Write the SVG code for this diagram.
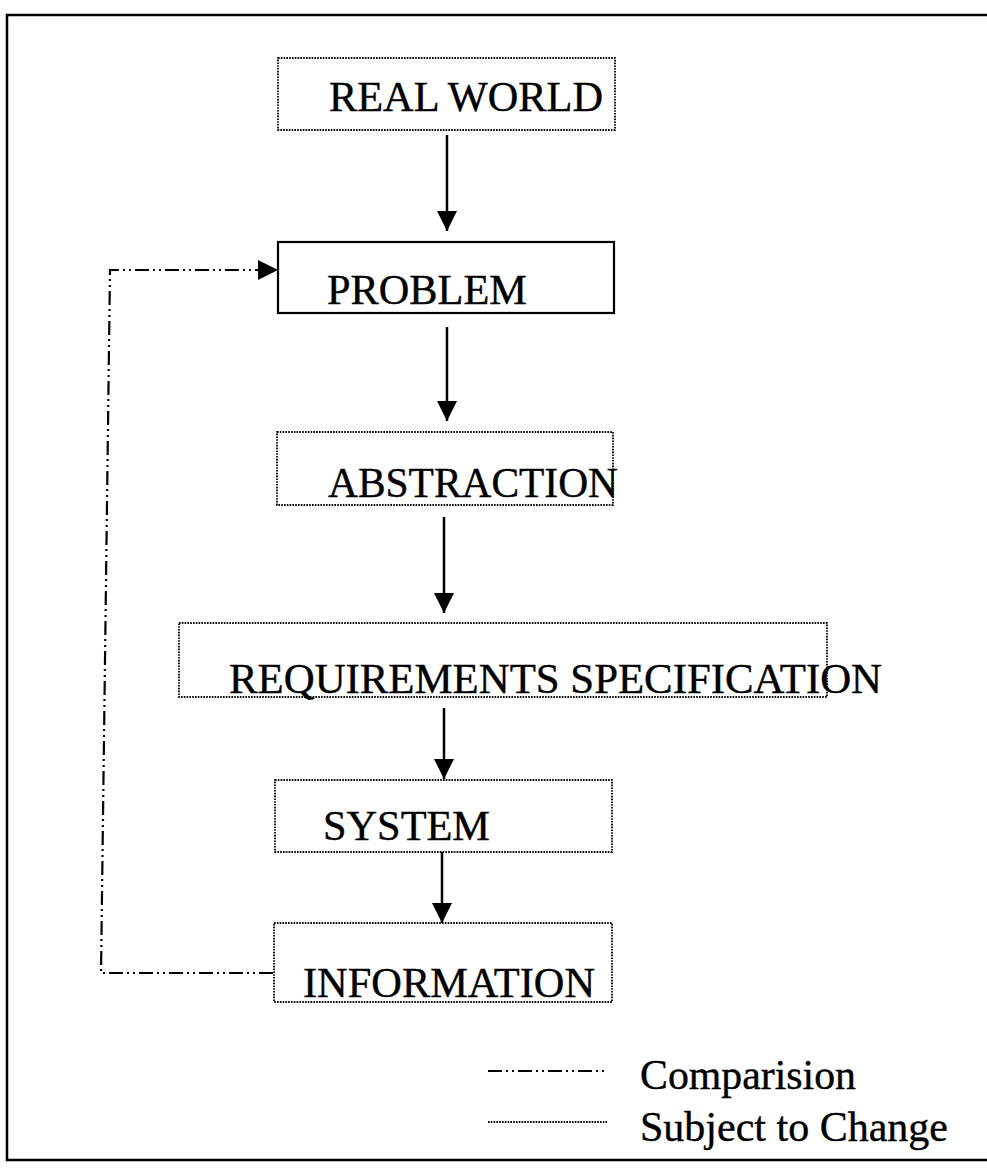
<svg xmlns="http://www.w3.org/2000/svg" width="987" height="1168" viewBox="0 0 987 1168">
<style>
text{font-family:"Liberation Serif","Times New Roman",serif;font-size:42px;fill:#000;stroke:#000;stroke-width:0.4}
.dot{fill:none;stroke:#000;stroke-width:1.8;stroke-dasharray:1.6 1.2}
.solid{fill:none;stroke:#000;stroke-width:2.2}
.arrow{stroke:#000;stroke-width:2.5;fill:none;marker-end:url(#ah)}
.dashdot{fill:none;stroke:#000;stroke-width:2.2;stroke-dasharray:14 4 2 4 2 4}
</style>
<defs>
<marker id="ah" markerWidth="20" markerHeight="20" refX="20" refY="10" viewBox="0 0 20 20" orient="auto" markerUnits="userSpaceOnUse">
<path d="M0,0 L20,10 L0,20 Z" fill="#000"/>
</marker>
</defs>
<rect width="987" height="1168" fill="#fff"/>
<g id="frame">
<polyline points="987,15 7,15 7,1160 987,1160" fill="none" stroke="#000" stroke-width="2.5"/>
</g>
<g id="connectors">
<line class="arrow" x1="447" y1="135" x2="447" y2="231"/>
<line class="arrow" x1="447" y1="327" x2="447" y2="421"/>
<line class="arrow" x1="444" y1="517" x2="444" y2="613"/>
<line class="arrow" x1="444" y1="708" x2="444" y2="779"/>
<line class="arrow" x1="442" y1="852" x2="442" y2="923"/>
<polyline class="dashdot" points="273,973 101,973 110,270 259,270"/>
<path d="M258,260 L278,270 L258,280 Z" fill="#000"/>
</g>
<g id="n-realworld">
<rect class="dot" x="278" y="58" width="337" height="72"/>
<text x="329" y="111" textLength="274" lengthAdjust="spacingAndGlyphs">REAL WORLD</text>
</g>
<g id="n-problem">
<rect class="solid" x="278" y="242" width="336" height="71"/>
<text x="327" y="304" textLength="200" lengthAdjust="spacingAndGlyphs">PROBLEM</text>
</g>
<g id="n-abstraction">
<rect class="dot" x="277" y="432" width="336" height="73"/>
<text x="328" y="497" textLength="290" lengthAdjust="spacingAndGlyphs">ABSTRACTION</text>
</g>
<g id="n-requirements">
<rect class="dot" x="179" y="623" width="648" height="74"/>
<text x="229" y="693" textLength="653" lengthAdjust="spacingAndGlyphs">REQUIREMENTS SPECIFICATION</text>
</g>
<g id="n-system">
<rect class="dot" x="275" y="780" width="337" height="72"/>
<text x="323" y="840" textLength="167" lengthAdjust="spacingAndGlyphs">SYSTEM</text>
</g>
<g id="n-information">
<rect class="dot" x="274" y="923" width="338" height="79"/>
<text x="303" y="997" textLength="292" lengthAdjust="spacingAndGlyphs">INFORMATION</text>
</g>
<g id="legend">
<line class="dashdot" x1="488" y1="1071" x2="607" y2="1071"/>
<text x="640" y="1089" textLength="216" lengthAdjust="spacingAndGlyphs">Comparision</text>
<line class="dot" x1="488" y1="1122" x2="607" y2="1122"/>
<text x="640" y="1141">Subject to Change</text>
</g>
</svg>
